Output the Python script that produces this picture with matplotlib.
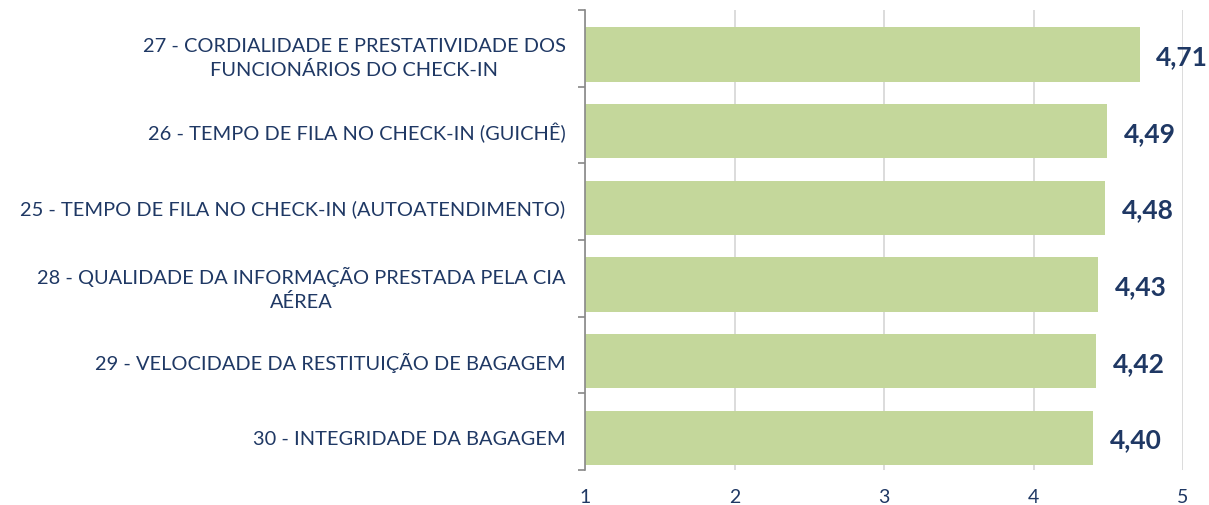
import numpy as np
import matplotlib
matplotlib.use("Agg")
import matplotlib.pyplot as plt

categories = [
    "27 - CORDIALIDADE E PRESTATIVIDADE DOS\nFUNCIONÁRIOS DO CHECK-IN",
    "26 - TEMPO DE FILA NO CHECK-IN (GUICHÊ)",
    "25 - TEMPO DE FILA NO CHECK-IN (AUTOATENDIMENTO)",
    "28 - QUALIDADE DA INFORMAÇÃO PRESTADA PELA CIA\nAÉREA",
    "29 - VELOCIDADE DA RESTITUIÇÃO DE BAGAGEM",
    "30 - INTEGRIDADE DA BAGAGEM",
]
scores = [4.71, 4.49, 4.48, 4.43, 4.42, 4.40]
xticks = [1, 2, 3, 4, 5]

navy = "#1f3864"
bar_color = "#c4d79b"

plt.rcParams["font.family"] = ["Lato", "DejaVu Sans"]

fig = plt.figure(figsize=(12.09, 5.05), dpi=100)
ax = fig.add_axes([585 / 1209, 1 - 470 / 505, (1183 - 585) / 1209, (470 - 10) / 505])

y = np.arange(len(categories))
shift = 0.08  # bars sit a little below the middle of each band
ax.barh(y + shift, [s - 1 for s in scores], left=1, height=0.71, color=bar_color, zorder=2)

ax.set_xlim(1, 5)
ax.set_ylim(len(categories) - 0.5, -0.5)
ax.set_xticks(xticks)
ax.set_xticklabels([str(t) for t in xticks], fontsize=14, color=navy)
ax.tick_params(axis="x", length=0, pad=14)

ax.set_yticks(y + shift)
ax.set_yticklabels(categories, fontsize=14.4, color=navy, linespacing=1.4)
ax.tick_params(axis="y", which="major", length=0, pad=14)
for lab in ax.get_yticklabels():
    lab.set_multialignment("center")
ax.set_yticks(np.arange(len(categories) + 1) - 0.5, minor=True)
ax.tick_params(axis="y", which="minor", length=5, color="#888888", width=1.2)

for s in ["top", "right", "bottom"]:
    ax.spines[s].set_visible(False)
ax.spines["left"].set_color("#888888")
ax.spines["left"].set_linewidth(1.2)

ax.grid(axis="x", color="#d9d9d9", lw=1.3, zorder=1)

for yi, s in zip(y + shift, scores):
    ax.annotate(f"{s:.2f}".replace(".", ","), xy=(s, yi), xytext=(12, -2),
                textcoords="offset points", ha="left", va="center",
                fontsize=19, fontweight="bold", color=navy)

fig.savefig("out.png", dpi=100)
